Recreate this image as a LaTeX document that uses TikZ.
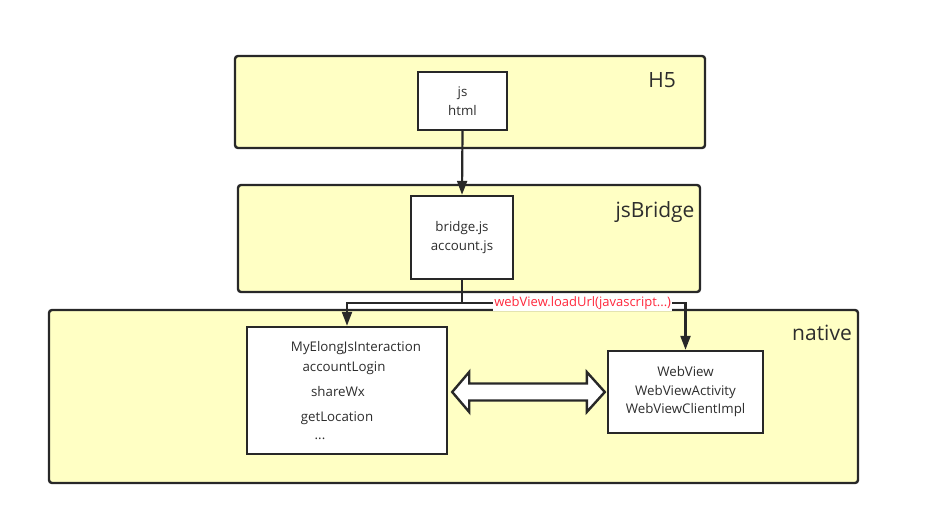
\documentclass[tikz,border=0pt]{standalone}
\usepackage{fontspec}
\setmainfont{Open Sans}
\usepackage{tikz}
\usetikzlibrary{arrows.meta, calc, positioning}
\usepackage{xcolor}
\definecolor{panelyellow}{RGB}{255,255,196}
\definecolor{linegray}{RGB}{40,40,40}
\definecolor{textgray}{RGB}{45,45,45}
\definecolor{callred}{RGB}{255,40,60}

\begin{document}
\begin{tikzpicture}[x=1pt, y=-1pt,
    panel/.style={draw=linegray, line width=2.4pt, fill=panelyellow, rounded corners=3pt},
    box/.style={draw=linegray, line width=2.4pt, fill=white, align=center, text=textgray, font=\fontsize{13.3}{18.5}\selectfont},
    item/.style={text=textgray, font=\fontsize{13.3}{15}\selectfont, inner sep=0pt},
    tag/.style={text=textgray, font=\fontsize{21}{22}\selectfont, inner sep=0pt},
    flow/.style={draw=linegray, line width=2.2pt, -{Triangle[length=14pt,width=10pt]}}]
    \useasboundingbox (0,0) rectangle (936,521);

    % 三层
    \node[panel, minimum width=470, minimum height=92] (h5) at (470,102) {};
    \node[panel, minimum width=462, minimum height=107] (jsb) at (469,238.5) {};
    \node[panel, minimum width=809, minimum height=173] (native) at (453.5,396.5) {};

    % 层名
    \node[tag] (h5tag) at (662,80) {H5};
    \node[tag] (jsbtag) at (655,212) {jsBridge};
    \node[tag] (nativetag) at (822,333) {native};

    % 模块
    \node[box, minimum width=89, minimum height=58] (page) at (462.5,101) {js\\html};
    \node[box, minimum width=102, minimum height=83] (bridge) at (462,237.5) {bridge.js\\account.js};
    \node[box, minimum width=200, minimum height=127] (iface) at (347,390.5) {};
    \node[box, minimum width=155, minimum height=82] (wv) at (685.5,392) {WebView\\WebViewActivity\\WebViewClientImpl};

    % 接口方法
    \node[item] (m1) at (356,348) {MyElongJsInteraction};
    \node[item] (m2) at (344,368) {accountLogin};
    \node[item] (m3) at (338,392) {shareWx};
    \node[item] (m4) at (337,418) {getLocation};
    \node[item] (m5) at (320,439) {...};

    % 调用
    \draw[flow] (page.south) -- (bridge.north);
    \coordinate (split) at ($(bridge.south)+(0,23)$);
    \draw[flow] (split) -| (iface.north);
    \draw[flow] (bridge.south) -- (split) -| (wv.north)
        node[pos=0.27, fill=white, inner sep=1pt, text=callred, font=\fontsize{13}{14}\selectfont] (call) {webView.loadUrl(javascript...)};

    % 双向箭头
    \coordinate (la) at ($(iface.east)+(4,1.5)$);
    \coordinate (ra) at ($(wv.west)+(-2,0)$);
    \draw[linegray, line width=2.4pt, fill=white, line join=miter]
        (la) -- ++(17,-20) -- ++(0,11.5) -- ($(ra)+(-18,-8.5)$) -- ++(0,-11.5) -- (ra)
        -- ++(-18,20) -- ++(0,-11.5) -- ($(la)+(17,8.5)$) -- ++(0,11.5) -- cycle;
\end{tikzpicture}
\end{document}
